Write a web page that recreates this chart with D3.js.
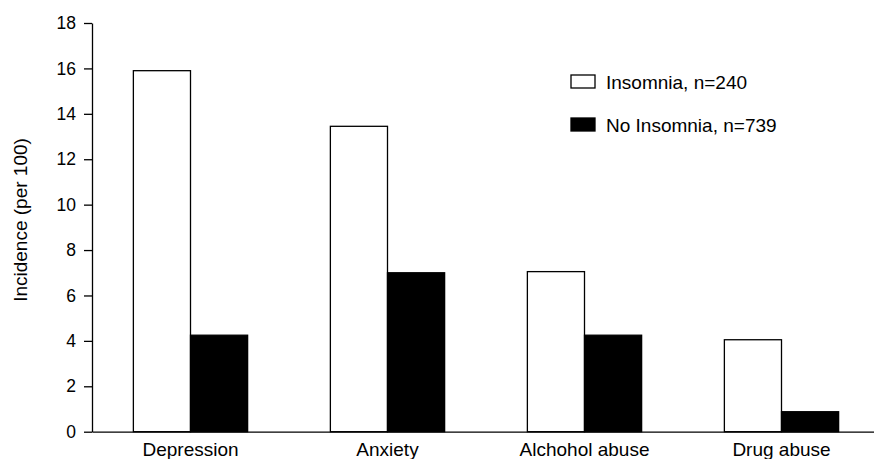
<!DOCTYPE html>
<html>
<head>
<meta charset="utf-8">
<script src="https://cdn.jsdelivr.net/npm/d3@7"></script>
<style>
  html, body { margin: 0; padding: 0; background: #fff; }
  svg { display: block; font-family: Arial, "Liberation Sans", Helvetica, sans-serif; }
</style>
</head>
<body>
<svg id="chart" width="874" height="459"></svg>
<script>
const categories = ["Depression", "Anxiety", "Alchohol abuse", "Drug abuse"];
const seriesNames = ["Insomnia, n=240", "No Insomnia, n=739"];
const insomnia = [15.9, 13.45, 7.05, 4.05];
const noInsomnia = [4.25, 7.0, 4.25, 0.88];
const yTicks = [0, 2, 4, 6, 8, 10, 12, 14, 16, 18];
const yLabel = "Incidence (per 100)";
const fills = ["#ffffff", "#000000"];

const svg = d3.select("#chart");
const axisX = 92, baseY = 431.7, topY = 23;

const y = d3.scaleLinear().domain([0, 18]).range([baseY, topY]);
const x0 = d3.scaleBand().domain(categories).range([axisX, 880]).paddingInner(0).paddingOuter(0);
const groupW = x0.bandwidth() * 0.58;
const x1 = d3.scaleBand().domain(seriesNames).range([0, groupW]).padding(0);

const data = categories.map((c, i) => ({ cat: c, vals: [insomnia[i], noInsomnia[i]] }));

// bars
const g = svg.append("g");
data.forEach(d => {
  d.vals.forEach((v, j) => {
    g.append("rect")
      .attr("x", x0(d.cat) + (x0.bandwidth() - groupW) / 2 + x1(seriesNames[j]))
      .attr("y", y(v))
      .attr("width", x1.bandwidth())
      .attr("height", baseY - y(v))
      .attr("fill", fills[j])
      .attr("stroke", "#000")
      .attr("stroke-width", 1.3);
  });
});

// y axis
const yAxis = d3.axisLeft(y).tickValues(yTicks).tickSize(8).tickPadding(8).tickSizeOuter(0);
const ya = svg.append("g").attr("transform", `translate(${axisX},0)`).call(yAxis);
ya.select(".domain").attr("stroke", "#000").attr("stroke-width", 1.3);
ya.selectAll(".tick line").attr("stroke", "#000").attr("stroke-width", 1.3);
ya.selectAll(".tick text").attr("font-size", 17.5).attr("fill", "#000")
  .attr("font-family", 'Arial, "Liberation Sans", sans-serif');

// x axis
const xAxis = d3.axisBottom(x0).tickSize(0).tickPadding(10.5).tickSizeOuter(0);
const xa = svg.append("g").attr("transform", `translate(0,${baseY})`).call(xAxis);
xa.select(".domain").attr("stroke", "#000").attr("stroke-width", 1.3);
xa.selectAll(".tick text").attr("font-size", 19).attr("fill", "#000")
  .attr("font-family", 'Arial, "Liberation Sans", sans-serif');

// y label
svg.append("text")
  .attr("transform", `translate(27,220) rotate(-90)`)
  .attr("text-anchor", "middle")
  .attr("font-size", 19)
  .text(yLabel);

// legend
const legY = [75, 118];
seriesNames.forEach((s, j) => {
  svg.append("rect")
    .attr("x", 571).attr("y", legY[j])
    .attr("width", 24).attr("height", 13)
    .attr("fill", fills[j]).attr("stroke", "#000").attr("stroke-width", 1.3);
  svg.append("text")
    .attr("x", 606).attr("y", legY[j] + 13.5)
    .attr("font-size", 19)
    .text(s);
});
</script>
</body>
</html>
